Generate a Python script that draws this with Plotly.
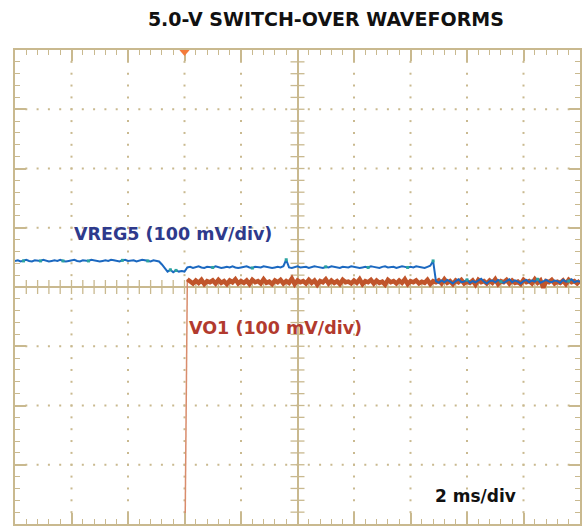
import numpy as np
import plotly.graph_objects as go

# ---- scope settings -------------------------------------------------------
MS_PER_DIV = 2.0          # horizontal scale
MV_PER_DIV = 100.0        # vertical scale (both channels)
SAMPLE_MS = 0.1           # record sample interval
TRIGGER_MS = -4.0         # trigger position (time relative to screen centre)

# ---- channel records (mV relative to graticule centre) ---------------------
vreg5_start_ms = -10.0
vreg5_mv = [
    44, 45, 43, 44, 46, 44, 43, 45, 44, 44,
    46, 45, 43, 44, 45, 44, 46, 44, 43, 44,
    45, 46, 44, 43, 45, 44, 44, 46, 45, 44,
    43, 44, 45, 44, 46, 45, 44, 43, 45, 46,
    44, 44, 45, 43, 44, 46, 45, 44, 43, 45,
    44, 43,
    38, 31, 26, 29, 25, 28, 26, 27, 26,
    33, 34, 32, 33, 35, 33, 32, 34, 33, 33,
    35, 34, 32, 33, 34, 33, 35, 33, 32, 33,
    34, 35, 33, 32, 34, 33, 33, 35, 34, 33,
    32, 33, 34, 33, 35, 46, 33, 32, 34, 35,
    33, 33, 34, 32, 33, 35, 34, 33, 32, 34,
    33, 35, 34, 33, 32, 34, 33, 33, 35, 34,
    33, 32, 33, 34, 33, 35, 34, 33, 32, 34,
    35, 33, 33, 34, 32, 33, 35, 34, 33, 34,
    33, 35, 34, 33, 32, 34, 36, 44,
    10, 7, 11, 8, 12, 9, 6, 10, 13, 8,
    9, 12, 7, 10, 8, 11, 14, 9, 6, 10,
    11, 8, 12, 9, 7, 10, 13, 8, 11, 9,
    6, 10, 12, 8, 11, 9, 13, 7, 10, 12,
    9, 8, 11, 10, 7, 12, 9, 10, 13, 8,
    10, 9,
]
# samples where the persistence display shows the lighter (teal) colour
vreg5_teal_idx = [3, 9, 17, 26, 38, 47, 55, 57, 70, 84, 96, 110, 125, 139, 148,
                  160, 172, 185, 196]

vo1_start_ms = -4.0
vo1_mv = [
    -520,
    13, 10, 6, 11, 7, 12, 5, 10, 8, 11,
    6, 12, 7, 10, 5, 11, 8, 13, 6, 10,
    7, 11, 5, 12, 8, 10, 6, 13, 7, 9,
    5, 11, 8, 12, 6, 10, 7, 14, 5, 11,
    8, 10, 6, 12, 7, 11, 4, 10, 8, 13,
    6, 11, 7, 10, 5, 12, 8, 9, 6, 11,
    7, 13, 5, 10, 8, 12, 6, 11, 7, 9,
    4, 12, 8, 10, 6, 11, 7, 13, 5, 10,
    8, 11, 6, 9, 7, 12, 5, 10, 8, 11,
    6, 13, 7, 10, 5, 11, 8, 12, 6, 9,
    7, 11, 4, 12, 8, 10, 6, 11, 7, 13,
    5, 10, 8, 12, 6, 11, 7, 9, 5, 12,
    8, 10, 6, 13, 7, 11, -1, 10, 8, 12,
    6, 9, 7, 11, 5, 12, 8, 10, 6, 11,
]

TITLE = "5.0-V SWITCH-OVER WAVEFORMS"
VREG5_LABEL = "VREG5 (100 mV/div)"
VO1_LABEL = "VO1 (100 mV/div)"
TIMEBASE_LABEL = "2 ms/div"

# ---- colours ---------------------------------------------------------------
GRAT = "#c9b98f"
VREG5_COLOR = "#1b68c0"
VREG5_TEAL = "#2aa3a0"
VO1_COLOR = "#c0552b"
VO1_EDGE = "#d98c6c"

t_vreg5 = vreg5_start_ms + SAMPLE_MS * np.arange(len(vreg5_mv))
t_vo1 = vo1_start_ms + SAMPLE_MS * np.arange(len(vo1_mv))

X_HALF = 5 * MS_PER_DIV
Y_HALF = 4 * MV_PER_DIV
x_minor = MS_PER_DIV / 5
y_minor = MV_PER_DIV / 5

fig = go.Figure()

# graticule dots along the major divisions
dot_x, dot_y = [], []
for yv in np.arange(-3, 4) * MV_PER_DIV:
    if yv == 0:
        continue
    xs = np.arange(-X_HALF + x_minor, X_HALF - 1e-9, x_minor)
    dot_x += list(xs)
    dot_y += [yv] * len(xs)
for xv in np.arange(-4, 5) * MS_PER_DIV:
    if xv == 0:
        continue
    ys = np.arange(-Y_HALF + y_minor, Y_HALF - 1e-9, y_minor)
    dot_x += [xv] * len(ys)
    dot_y += list(ys)
fig.add_trace(go.Scatter(x=dot_x, y=dot_y, mode="markers",
                         marker=dict(symbol="square", size=2, color=GRAT, line_width=0),
                         hoverinfo="skip", showlegend=False))

# crossing ticks on the centre cross-hair
cx = np.arange(-X_HALF + x_minor, X_HALF - 1e-9, x_minor)
cy = np.arange(-Y_HALF + y_minor, Y_HALF - 1e-9, y_minor)
fig.add_trace(go.Scatter(x=cx, y=np.zeros_like(cx), mode="markers",
                         marker=dict(symbol="line-ns", size=10,
                                     line=dict(color=GRAT, width=1.3)),
                         hoverinfo="skip", showlegend=False))
fig.add_trace(go.Scatter(x=np.zeros_like(cy), y=cy, mode="markers",
                         marker=dict(symbol="line-ew", size=10,
                                     line=dict(color=GRAT, width=1.3)),
                         hoverinfo="skip", showlegend=False))

# VO1: fast rising edge drawn dimmer, then the settled trace
fig.add_trace(go.Scatter(x=t_vo1[:2], y=vo1_mv[:2], mode="lines",
                         line=dict(color=VO1_EDGE, width=1.5),
                         hoverinfo="skip", showlegend=False))
fig.add_trace(go.Scatter(x=t_vo1[1:], y=vo1_mv[1:], mode="lines", name="VO1",
                         line=dict(color=VO1_COLOR, width=4.5),
                         showlegend=False))

# VREG5
fig.add_trace(go.Scatter(x=t_vreg5, y=vreg5_mv, mode="lines", name="VREG5",
                         line=dict(color=VREG5_COLOR, width=2),
                         showlegend=False))
fig.add_trace(go.Scatter(x=t_vreg5[vreg5_teal_idx],
                         y=[vreg5_mv[i] for i in vreg5_teal_idx],
                         mode="markers",
                         marker=dict(symbol="square", size=3, color=VREG5_TEAL),
                         hoverinfo="skip", showlegend=False))

# trigger position marker at the top edge
fig.add_shape(type="path", xref="x", yref="y",
              xsizemode="pixel", ysizemode="pixel",
              xanchor=TRIGGER_MS, yanchor=Y_HALF,
              path="M-6,1 L6,1 L0,-6 Z",
              fillcolor="#f47b3a", line_width=0, layer="above")

label_font = dict(family="DejaVu Sans", size=17.5, weight="bold")
fig.add_annotation(x=-4.40, y=90, xref="x", yref="y", text=VREG5_LABEL,
                   showarrow=False, font=dict(label_font, color="#2e3a8c"))
fig.add_annotation(x=-0.77, y=-69, xref="x", yref="y", text=VO1_LABEL,
                   showarrow=False, font=dict(label_font, color="#b23a2e"))
fig.add_annotation(x=6.31, y=-352, xref="x", yref="y", text=TIMEBASE_LABEL,
                   showarrow=False, font=dict(label_font, size=17, color="#111111"))

axis_common = dict(showline=True, linecolor=GRAT, linewidth=1.5, mirror="allticks",
                   ticks="inside", ticklen=11, tickwidth=1.5, tickcolor=GRAT,
                   showticklabels=False, showgrid=False,
                   zeroline=True, zerolinecolor=GRAT, zerolinewidth=1.5,
                   fixedrange=True)

fig.update_layout(
    width=583, height=527,
    margin=dict(l=15, r=1, t=50, b=3),
    paper_bgcolor="white", plot_bgcolor="white",
    title=dict(text=TITLE, x=0.559, xanchor="center", y=0.964, yanchor="middle",
               font=dict(family="DejaVu Sans", size=19, weight="bold", color="#111111")),
    xaxis=dict(axis_common, range=[-X_HALF, X_HALF], tick0=-X_HALF, dtick=MS_PER_DIV,
               minor=dict(ticks="inside", ticklen=5, tickwidth=1.2, tickcolor=GRAT,
                          dtick=x_minor, tick0=-X_HALF, showgrid=False)),
    yaxis=dict(axis_common, range=[-Y_HALF, Y_HALF], tick0=-Y_HALF, dtick=MV_PER_DIV,
               minor=dict(ticks="inside", ticklen=5, tickwidth=1.2, tickcolor=GRAT,
                          dtick=y_minor, tick0=-Y_HALF, showgrid=False)),
)

fig.write_html("out.html")
